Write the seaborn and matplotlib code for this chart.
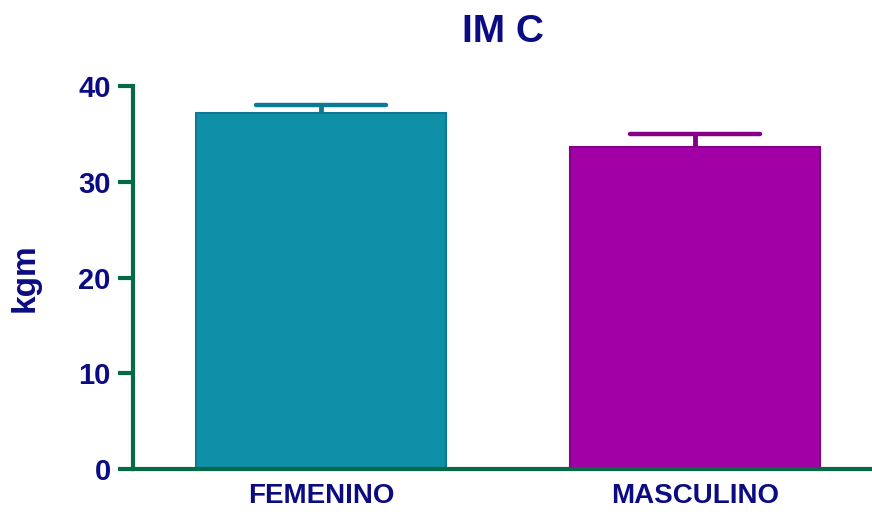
import matplotlib
matplotlib.use("Agg")
import matplotlib.pyplot as plt
import seaborn as sns
import pandas as pd

categories = ["FEMENINO", "MASCULINO"]
means = [37.2, 33.6]
sem = [0.8, 1.4]
yticks = [0, 10, 20, 30, 40]

fill_colors = ["#0f90a8", "#a200a6"]
edge_colors = ["#0b7a92", "#860088"]
navy = "#0c0c82"
green = "#066a44"

sns.set_theme(style="white")
plt.rcParams["font.family"] = ["Liberation Sans", "DejaVu Sans"]

df = pd.DataFrame({"sexo": categories, "imc": means})

fig = plt.figure(figsize=(8.72, 5.12), dpi=100)
ax = fig.add_axes([0.1525, 0.084, 0.8475, 0.748])

sns.barplot(data=df, x="sexo", y="imc", hue="sexo", palette=fill_colors,
            saturation=1, width=0.668, legend=False, ax=ax, errorbar=None)
for patch, ec in zip(ax.patches, edge_colors):
    patch.set_edgecolor(ec)
    patch.set_linewidth(1.5)
    patch.set_zorder(2)

# upper error bars only (mean + SEM), with caps
xs = list(range(len(categories)))
tops = [m + e for m, e in zip(means, sem)]
cap_half = 0.173
ax.vlines(xs, means, tops, colors=edge_colors, linewidth=3.5, zorder=1)
ax.hlines(tops, [x - cap_half for x in xs], [x + cap_half for x in xs],
          colors=edge_colors, linewidth=3.2, zorder=1, capstyle="round")

ax.set_xlim(-0.503, 1.473)
ax.set_ylim(0, 40)
ax.set_yticks(yticks)
ax.set_yticklabels([str(t) for t in yticks])

for side in ["top", "right"]:
    ax.spines[side].set_visible(False)
for side in ["left", "bottom"]:
    ax.spines[side].set_color(green)
    ax.spines[side].set_linewidth(3)
ax.spines["bottom"].set_zorder(3)

ax.tick_params(axis="y", which="major", direction="out", length=11,
               width=3, color=green, pad=5, left=True,
               labelsize=21, labelcolor=navy)
ax.tick_params(axis="x", length=0, pad=10, labelsize=20, labelcolor=navy)
for lbl in ax.get_yticklabels() + ax.get_xticklabels():
    lbl.set_fontweight("bold")

ax.set_xlabel("")
ax.set_ylabel("kgm", fontsize=24, fontweight="bold", color=navy, labelpad=27)
ax.set_title("IM C", fontsize=28, fontweight="bold", color=navy, pad=32)

fig.savefig("out.png", dpi=100)
